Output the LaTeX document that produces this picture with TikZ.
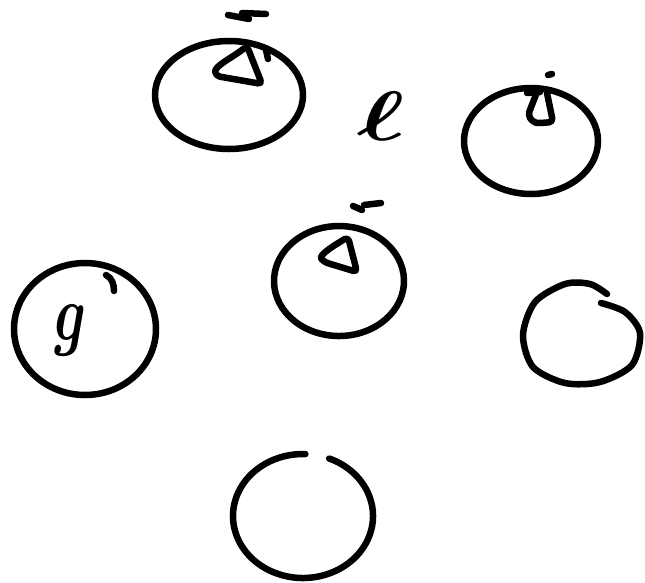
\documentclass[tikz,border=0pt]{standalone}
\usepackage{amsmath,graphicx}
\tikzset{
  ink/.style={line width=6.5pt, line cap=round, line join=round, black},
  tri/.style={ink, rounded corners=4pt},
  big/.style={inner sep=0pt}
}
\begin{document}
\begin{tikzpicture}[x=1pt,y=-1pt]
\useasboundingbox (0,0) rectangle (645,582);
% centres
\coordinate (cTL) at (229,95);
\coordinate (cTR) at (531,141);
\coordinate (cM) at (339,281);
\coordinate (cL) at (85,329);
\coordinate (cB) at (303,516);
% top-left
\draw[ink] (cTL) ellipse[x radius=74, y radius=54];
\draw[tri] (247,46) .. controls (232,58) and (214,66) .. (216,76) -- (262,84) -- cycle;
\draw[ink] (266,50) -- (268,59);
\draw[ink] (228,15) -- (249,19);
\draw[ink] (242,13) -- (266,14);
% top-right
\draw[ink] (cTR) ellipse[x radius=67, y radius=53];
\draw[tri] (537,92) -- (528,115) .. controls (532,121) and (536,123) .. (541,123) -- (553,122) -- (547,93);
\draw[ink] (527,93) -- (540,92);
\draw[ink] (548,75) -- (552,74);
% middle
\draw[ink] (cM) ++(280:65 and 55) arc[start angle=280, end angle=652, x radius=65, y radius=55];
\draw[tri] (348,237) .. controls (335,245) and (318,255) .. (324,262) -- (357,272) -- cycle;
\draw[ink] (353,206) -- (362,210);
\draw[ink] (364,205) -- (381,203);
% left
\draw[ink] (cL) ellipse[x radius=71, y radius=66];
\draw[ink] (106,275) .. controls (112,278) and (114,284) .. (114,291);
\node[big] (g) at (71,330) {\scalebox{5.5}[8]{$\boldsymbol{g}$}};
% right
\draw[ink] plot[smooth] coordinates {(601,303) (625,312) (640,333) (632,365) (600,382) (565,383) (533,367) (523,335) (535,302) (565,284) (590,284) (607,294)};
% bottom
\draw[ink] (cB) ++(292:70 and 62) arc[start angle=292, end angle=632, x radius=70, y radius=62];
% label l
\node[big] (l) at (381,116) {\scalebox{10}[7]{$\boldsymbol{\ell}$}};
\end{tikzpicture}
\end{document}
